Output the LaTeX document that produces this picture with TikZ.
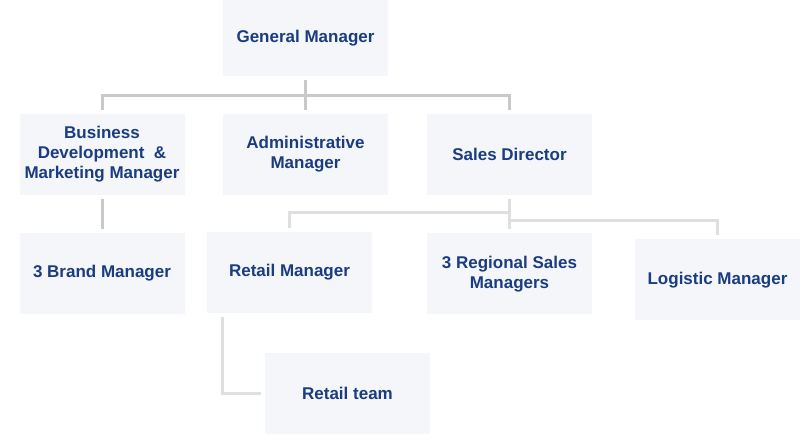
\documentclass[tikz,border=0pt]{standalone}
\usepackage{fontspec}
\setmainfont{Liberation Sans}
\usepackage{xcolor}
\usetikzlibrary{positioning}

\definecolor{boxfill}{HTML}{F4F6F9}
\definecolor{boxtext}{HTML}{1A3C80}
\definecolor{linetop}{HTML}{C9C9C9}
\definecolor{linelow}{HTML}{DEDFE1}

\begin{document}
\begin{tikzpicture}[
  x=1pt, y=-1pt,
  post/.style={fill=boxfill, draw=none, minimum width=165pt, minimum height=81pt,
    align=center, text=boxtext, font=\fontsize{17}{20}\selectfont\bfseries, outer sep=4pt},
  conn/.style={draw=linetop, line width=3pt},
  connlow/.style={draw=linelow, line width=2.6pt}
]
\useasboundingbox (0,0) rectangle (808,443);

\node[post, minimum height=76pt] (gm) at (305.5,38) {General Manager};
\node[post] (bdm) at (102,154.5) {Business\\Development~~\&\\Marketing Manager};
\node[post] (adm) at (305.5,154.5) {Administrative\\Manager};
\node[post] (sd) at (509.5,154.5) {Sales Director};

\node[post] (brand) at (102,273.5) {3 Brand Manager};
\node[post] (rm) at (289.5,272.5) {Retail Manager};
\node[post] (rsm) at (509.5,274) {3 Regional Sales\\Managers};
\node[post] (lm) at (717.5,280) {Logistic Manager};
\node[post] (rt) at (347.5,393.5) {Retail team};

\coordinate (gmbus) at (305.5,95.7);
\coordinate (sdbus) at (509.5,212.5);
\coordinate (sdbus2) at (509.5,220.5);

\draw[conn] (gm.south) -- (adm.north);
\draw[conn] (bdm.north) |- (gmbus) -| (sd.north);
\draw[conn] (bdm.south) -- (brand.north);

\draw[connlow] (sd.south) -- (rsm.north);
\draw[connlow] (rm.north) |- (sdbus);
\draw[connlow] (sdbus2) -| (lm.north);
\draw[connlow] ([xshift=-67pt]rm.south) |- (rt.west);
\end{tikzpicture}
\end{document}
